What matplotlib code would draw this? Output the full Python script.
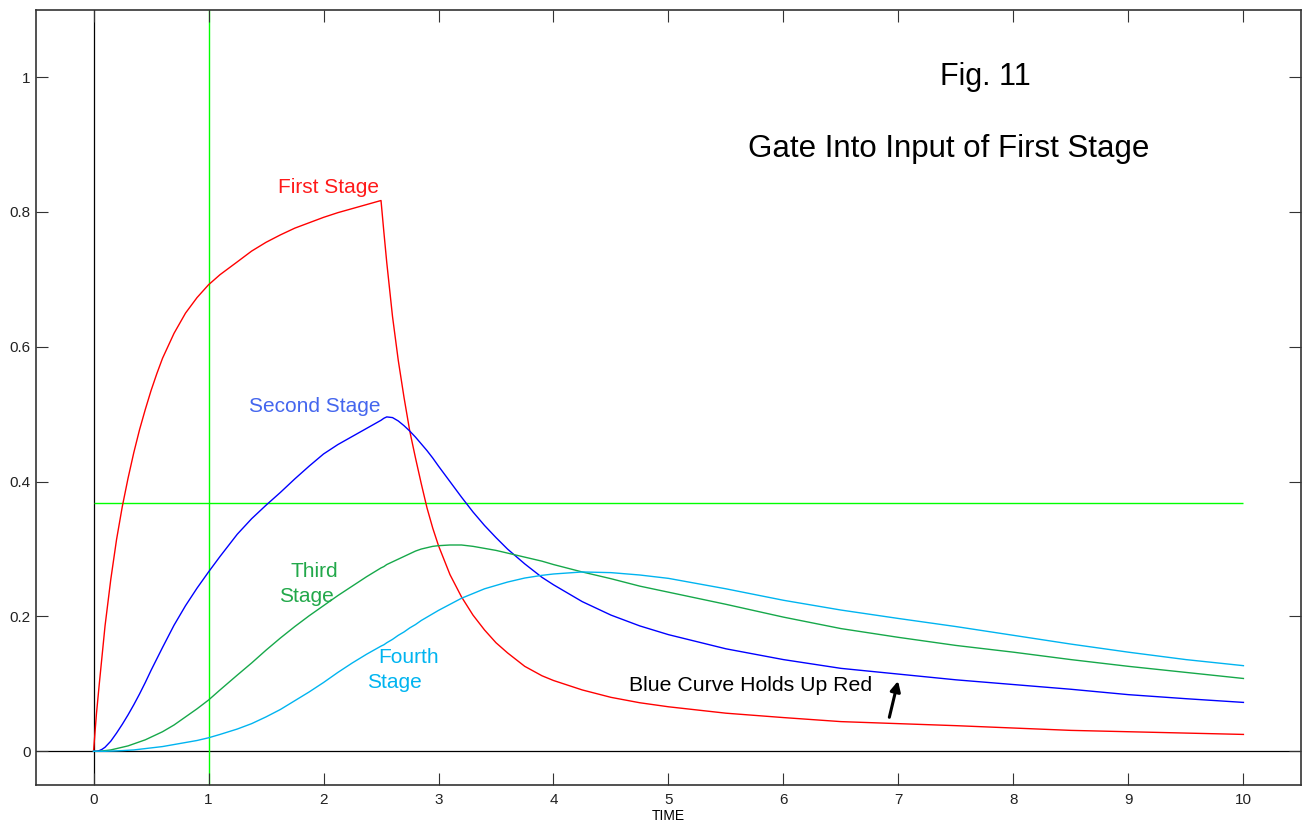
"""
Fig. 11 - gate into input of first stage of a four stage RC ladder.
Values read off the original plot.
"""

import matplotlib.pyplot as plt

plt.rcParams["font.family"] = ["Liberation Sans", "DejaVu Sans"]

# time axis shared by all four stages (denser where the curves bend)
TIME = [0, 0.025, 0.05, 0.075, 0.1, 0.15, 0.2, 0.25, 0.3, 0.35,
        0.4, 0.45, 0.5, 0.55, 0.6, 0.7, 0.8, 0.9, 1.0, 1.1,
        1.25, 1.375, 1.5, 1.625, 1.75, 1.875, 2.0, 2.125, 2.25, 2.375,
        2.5, 2.525, 2.55, 2.6, 2.65, 2.7, 2.75, 2.8, 2.85, 2.9,
        2.95, 3.0, 3.1, 3.2, 3.3, 3.4, 3.5, 3.6, 3.75, 3.9,
        4.0, 4.25, 4.5, 4.75, 5.0, 5.5, 6.0, 6.5, 7.0, 7.5,
        8.0, 8.5, 9.0, 9.5, 10.0]

FIRST = [0.0, 0.055, 0.10, 0.143, 0.186, 0.255, 0.314, 0.363, 0.405, 0.443,
         0.477, 0.507, 0.535, 0.560, 0.583, 0.620, 0.650, 0.673, 0.692, 0.707,
         0.726, 0.742, 0.755, 0.766, 0.776, 0.784, 0.792, 0.799, 0.805, 0.811,
         0.817, 0.770, 0.725, 0.645, 0.580, 0.525, 0.475, 0.435, 0.397, 0.361,
         0.331, 0.305, 0.262, 0.229, 0.202, 0.180, 0.161, 0.146, 0.126, 0.112,
         0.105, 0.091, 0.080, 0.072, 0.066, 0.0565, 0.050, 0.044, 0.041, 0.038,
         0.0345, 0.031, 0.029, 0.027, 0.025]

SECOND = [0.0, 0.0, 0.001, 0.003, 0.006, 0.015, 0.027, 0.040, 0.054, 0.069,
          0.085, 0.102, 0.120, 0.137, 0.154, 0.187, 0.216, 0.242, 0.266, 0.289,
          0.322, 0.345, 0.365, 0.384, 0.404, 0.423, 0.441, 0.455, 0.467, 0.479,
          0.491, 0.494, 0.496, 0.495, 0.490, 0.483, 0.475, 0.466, 0.456, 0.446,
          0.435, 0.423, 0.400, 0.377, 0.355, 0.335, 0.317, 0.300, 0.278, 0.258,
          0.247, 0.222, 0.202, 0.186, 0.173, 0.152, 0.136, 0.123, 0.1145, 0.106,
          0.099, 0.092, 0.084, 0.078, 0.0725]

THIRD = [0.0, 0.0, 0.0, 0.0005, 0.001, 0.002, 0.004, 0.006, 0.008, 0.011,
         0.014, 0.017, 0.021, 0.025, 0.029, 0.039, 0.051, 0.063, 0.076, 0.091,
         0.113, 0.131, 0.150, 0.168, 0.185, 0.201, 0.216, 0.231, 0.245, 0.259,
         0.272, 0.274, 0.277, 0.281, 0.285, 0.289, 0.293, 0.297, 0.300, 0.302,
         0.304, 0.305, 0.306, 0.306, 0.304, 0.301, 0.298, 0.294, 0.288, 0.282,
         0.277, 0.266, 0.256, 0.245, 0.236, 0.218, 0.199, 0.182, 0.169, 0.157,
         0.147, 0.136, 0.126, 0.117, 0.108]

FOURTH = [0.0, 0.0, 0.0, 0.0, 0.0, 0.0003, 0.0006, 0.001, 0.0015, 0.002,
          0.003, 0.004, 0.005, 0.006, 0.007, 0.010, 0.013, 0.016, 0.020, 0.025,
          0.033, 0.041, 0.051, 0.062, 0.075, 0.088, 0.102, 0.117, 0.131, 0.144,
          0.156, 0.158, 0.161, 0.166, 0.172, 0.177, 0.183, 0.188, 0.194, 0.199,
          0.204, 0.209, 0.218, 0.227, 0.234, 0.241, 0.246, 0.251, 0.257, 0.261,
          0.263, 0.266, 0.265, 0.2615, 0.2565, 0.241, 0.224, 0.2095, 0.197, 0.185,
          0.172, 0.159, 0.147, 0.136, 0.127]

# reference markers: one time constant and the 1/e level
REF_TIME = 1.0
REF_LEVEL = 0.368

X_TICKS = list(range(0, 11))
Y_TICKS = [0, 0.2, 0.4, 0.6, 0.8, 1]
Y_TICK_LABELS = ["0", "0.2", "0.4", "0.6", "0.8", "1"]

fig = plt.figure(figsize=(13.06, 8.25), dpi=100)
ax = fig.add_axes([0.0276, 0.0485, 0.9685, 0.9397])

ax.axvline(0, color="black", lw=0.9, zorder=1)
ax.axhline(0, color="black", lw=0.9, zorder=1)
ax.axvline(REF_TIME, color="#00ff00", lw=1.0, zorder=1)
ax.hlines(REF_LEVEL, TIME[0], TIME[-1], color="#00ff00", lw=1.0, zorder=1)

ax.plot(TIME, FIRST, color="#ff0000", lw=1.0, zorder=3)
ax.plot(TIME, SECOND, color="#0000ff", lw=1.0, zorder=3)
ax.plot(TIME, THIRD, color="#16a84a", lw=1.0, zorder=3)
ax.plot(TIME, FOURTH, color="#00b4f0", lw=1.0, zorder=3)

ax.set_xlim(-0.5, 10.5)
ax.set_ylim(-0.05, 1.1)
ax.set_xticks(X_TICKS)
ax.set_yticks(Y_TICKS)
ax.set_yticklabels(Y_TICK_LABELS)
ax.tick_params(direction="in", top=True, right=True, length=8.5, width=0.8,
               color="#333333", labelsize=11, labelcolor="#222222")
ax.tick_params(axis="x", pad=6)
ax.tick_params(axis="y", pad=4)
for sp in ax.spines.values():
    sp.set_color("#333333")
    sp.set_linewidth(1.2)
ax.set_xlabel("TIME", fontsize=10, labelpad=1)

# annotations
ax.text(7.754, 0.988, "Fig. 11", fontsize=22, ha="center", va="baseline")
ax.text(7.437, 0.882, "Gate Into Input of First Stage", fontsize=22.5,
        ha="center", va="baseline")
ax.text(2.043, 0.8275, "First Stage", fontsize=15, color="#ff1a1a",
        ha="center", va="baseline")
ax.text(1.924, 0.5036, "Second Stage", fontsize=15, color="#4466ee",
        ha="center", va="baseline")
ax.text(1.92, 0.259, "Third", fontsize=15, color="#22a84a",
        ha="center", va="baseline")
ax.text(1.852, 0.222, "Stage", fontsize=15, color="#22a84a",
        ha="center", va="baseline")
ax.text(2.736, 0.1305, "Fourth", fontsize=15, color="#00b4f0",
        ha="center", va="baseline")
ax.text(2.613, 0.0934, "Stage", fontsize=15, color="#00b4f0",
        ha="center", va="baseline")
ax.text(5.711, 0.0899, "Blue Curve Holds Up Red", fontsize=15.3,
        ha="center", va="baseline")
ax.annotate("", xy=(7.002, 0.1083), xytext=(6.915, 0.0464),
            arrowprops=dict(arrowstyle="-|>,head_width=0.3,head_length=0.6",
                            color="black", lw=2.2))

fig.savefig("out.png", dpi=100)
